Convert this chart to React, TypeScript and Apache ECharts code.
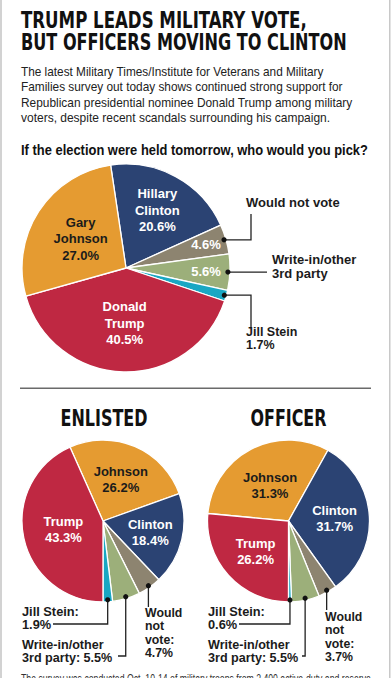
import React, { useEffect, useRef } from "react";
import * as echarts from "echarts";

// ---------- DATA ----------
const mainNames = ["Hillary Clinton", "Would not vote", "Write-in/other 3rd party", "Jill Stein", "Donald Trump", "Gary Johnson"];
const mainValues = [20.6, 4.6, 5.6, 1.7, 40.5, 27.0];

const subNames = ["Johnson", "Clinton", "Would not vote", "Write-in/other 3rd party", "Jill Stein", "Trump"];
const enlistedValues = [26.2, 18.4, 4.7, 5.5, 1.9, 43.3];
const officerValues = [31.3, 31.7, 3.7, 5.5, 0.6, 26.2];

const headline = ["TRUMP LEADS MILITARY VOTE,", "BUT OFFICERS MOVING TO CLINTON"];
const intro = [
  "The latest Military Times/Institute for Veterans and Military",
  "Families survey out today shows continued strong support for",
  "Republican presidential nominee Donald Trump among military",
  "voters, despite recent scandals surrounding his campaign.",
];
const question = "If the election were held tomorrow, who would you pick?";
const groupTitles = ["ENLISTED", "OFFICER"];
const footnote = "The survey was conducted Oct. 10-14 of military troops from 2,400 active-duty and reserve";

// ---------- STYLE ----------
const COLORS: Record<string, string> = {
  Clinton: "#2b4373",
  Johnson: "#e59b31",
  Trump: "#bf2842",
  WNV: "#8d8470",
  Write: "#9caf7a",
  Stein: "#19a7c3",
};
const mainColorKeys = ["Clinton", "WNV", "Write", "Stein", "Trump", "Johnson"];
const subColorKeys = ["Johnson", "Clinton", "WNV", "Write", "Stein", "Trump"];

const DARK = "#1b1b1b";
const F_HEAD = '"DejaVu Sans Condensed", "DejaVu Sans", sans-serif';
const F_BODY = '"Liberation Sans", Arial, Helvetica, sans-serif';

const fmt = (v: number) => v.toFixed(1) + "%";

// pie geometry (pixels)
const MAIN = { cx: 126, cy: 268, r: 104, start: 98.5 };
const ENL = { cx: 103, cy: 521, r: 81, start: 114.1 };
const OFF = { cx: 288.5, cy: 521, r: 81, start: 174.7 };

function midAngle(values: number[], start: number, i: number) {
  const sum = values.reduce((a, b) => a + b, 0);
  let cum = 0;
  for (let j = 0; j < i; j++) cum += values[j];
  return start - ((cum + values[i] / 2) / sum) * 360;
}
function polar(g: { cx: number; cy: number }, r: number, deg: number): [number, number] {
  const a = (deg * Math.PI) / 180;
  return [g.cx + r * Math.cos(a), g.cy - r * Math.sin(a)];
}

let ctx: CanvasRenderingContext2D | null = null;
function measure(text: string, font: string) {
  if (!ctx) ctx = document.createElement("canvas").getContext("2d");
  if (!ctx) return 1;
  ctx.font = font;
  return ctx.measureText(text).width || 1;
}

function txt(text: string, x: number, y: number, o: any = {}) {
  const size = o.size ?? 13;
  const weight = o.weight ?? "bold";
  const family = o.family ?? F_BODY;
  const align = o.align ?? "left";
  let scaleX = 1;
  if (o.fitWidth) scaleX = o.fitWidth / measure(text, `${weight} ${size}px ${family}`);
  return {
    type: "text",
    x,
    y,
    scaleX,
    silent: true,
    z: 10,
    style: {
      text,
      fill: o.color ?? DARK,
      fontSize: size,
      fontWeight: weight,
      fontFamily: family,
      align,
      textAlign: align,
      verticalAlign: "middle",
      textVerticalAlign: "middle",
      lineHeight: o.lh ?? size * 1.25,
    },
  };
}
function poly(points: number[][]) {
  return {
    type: "polyline",
    silent: true,
    z: 9,
    shape: { points },
    style: { stroke: "#222", lineWidth: 1.3, fill: null },
  };
}
function dot(p: number[]) {
  return { type: "circle", silent: true, z: 11, shape: { cx: p[0], cy: p[1], r: 2.6 }, style: { fill: "#111" } };
}

function pieSeries(values: number[], names: string[], keys: string[], g: any) {
  return {
    type: "pie",
    center: [g.cx, g.cy],
    radius: g.r,
    startAngle: g.start,
    clockwise: true,
    silent: true,
    label: { show: false },
    labelLine: { show: false },
    emphasis: { disabled: true },
    itemStyle: { borderColor: "#ffffff", borderWidth: 1.3 },
    data: values.map((v, i) => ({ value: v, name: names[i], itemStyle: { color: COLORS[keys[i]] } })),
  };
}

export default function App() {
  const ref = useRef<HTMLDivElement>(null);
  useEffect(() => {
    if (!ref.current) return;
    const chart = echarts.init(ref.current, undefined, { renderer: "svg" });
    const gr: any[] = [];

    // borders
    gr.push({ type: "rect", silent: true, shape: { x: 0, y: 0, width: 2, height: 678 }, style: { fill: "#d2d2d2" } });
    gr.push({ type: "rect", silent: true, shape: { x: 389, y: 0, width: 1.5, height: 678 }, style: { fill: "#c8c8c8" } });

    // headline
    gr.push(txt(headline[0], 21, 20.5, { size: 23, family: F_HEAD, fitWidth: 286, color: "#111" }));
    gr.push(txt(headline[1], 21, 42, { size: 23, family: F_HEAD, fitWidth: 326, color: "#111" }));
    const introW = [303, 322, 332, 309];
    const introY = [71.5, 87, 102.5, 118];
    intro.forEach((line, i) =>
      gr.push(txt(line, 21, introY[i], { size: 13, weight: "normal", fitWidth: introW[i], color: "#222" }))
    );
    gr.push(txt(question, 21, 150.5, { size: 14, fitWidth: 347, color: "#111" }));

    // main pie inner labels
    const mainInner = [
      { i: 0, lines: ["Hillary", "Clinton"], rf: 0.63, color: "#fff" },
      { i: 1, lines: [], rf: 0.8, color: "#fff" },
      { i: 2, lines: [], rf: 0.77, color: "#fff" },
      { i: 4, lines: ["Donald", "Trump"], rf: 0.53, color: "#fff" },
      { i: 5, lines: ["Gary", "Johnson"], rf: 0.52, color: DARK },
    ];
    mainInner.forEach((l) => {
      const p = polar(MAIN, MAIN.r * l.rf, midAngle(mainValues, MAIN.start, l.i));
      gr.push(txt([...l.lines, fmt(mainValues[l.i])].join("\n"), p[0], p[1], { align: "center", color: l.color, lh: 16.5 }));
    });

    // main pie outer labels
    const mdot = (i: number) => polar(MAIN, MAIN.r - 2, midAngle(mainValues, MAIN.start, i));
    {
      const p = mdot(1);
      gr.push(poly([p, [251, p[1]], [251, 214]]), dot(p));
      gr.push(txt("Would not vote", 246, 202));
    }
    {
      const p = mdot(2);
      gr.push(poly([p, [267, p[1]]]), dot(p));
      gr.push(txt("Write-in/other\n3rd party", 272, 266, { lh: 14 }));
    }
    {
      const p = mdot(3);
      gr.push(poly([p, [251, p[1]], [251, 328]]), dot(p));
      gr.push(txt("Jill Stein\n" + fmt(mainValues[3]), 246, 338.7, { size: 12.5, lh: 12.8 }));
    }

    // separator
    gr.push({ type: "line", silent: true, shape: { x1: 20, y1: 388.3, x2: 371, y2: 388.3 }, style: { stroke: "#6a6a6a", lineWidth: 1.6 } });

    // group titles
    gr.push(txt(groupTitles[0], ENL.cx + 1, 418, { size: 23, family: F_HEAD, fitWidth: 87, align: "center", color: "#111" }));
    gr.push(txt(groupTitles[1], OFF.cx, 418, { size: 23, family: F_HEAD, fitWidth: 76, align: "center", color: "#111" }));

    // small pies
    const subs = [
      {
        g: ENL, values: enlistedValues,
        inner: [{ i: 0, rf: 0.56, color: DARK }, { i: 1, rf: 0.6, color: "#fff" }, { i: 5, rf: 0.5, color: "#fff" }],
        stein: { y: 624, x: 53, tx: 22 }, write: { y: 656, x: 118, tx: 22 }, wnv: { y: 607, tx: 145, ty: 633 },
      },
      {
        g: OFF, values: officerValues,
        inner: [{ i: 0, rf: 0.49, color: DARK }, { i: 1, rf: 0.57, color: "#fff" }, { i: 5, rf: 0.55, color: "#fff" }],
        stein: { y: 624, x: 239, tx: 208 }, write: { y: 656, x: 302, tx: 208 }, wnv: { y: 610, tx: 325, ty: 637 },
      },
    ];
    subs.forEach((s) => {
      s.inner.forEach((l) => {
        const p = polar(s.g, s.g.r * l.rf, midAngle(s.values, s.g.start, l.i));
        gr.push(txt(subNames[l.i] + "\n" + fmt(s.values[l.i]), p[0], p[1], { align: "center", color: l.color, lh: 16 }));
      });
      const sd = (i: number) => polar(s.g, s.g.r - 2, midAngle(s.values, s.g.start, i));
      const pS = sd(4);
      gr.push(poly([pS, [pS[0], s.stein.y], [s.stein.x, s.stein.y]]), dot(pS));
      gr.push(txt("Jill Stein:\n" + fmt(s.values[4]), s.stein.tx, 618, { size: 12.8, lh: 13.8 }));
      const pW = sd(3);
      gr.push(poly([pW, [pW[0], s.write.y], [s.write.x, s.write.y]]), dot(pW));
      gr.push(txt("Write-in/other\n3rd party: " + fmt(s.values[3]), s.write.tx, 651, { size: 12.6, lh: 13 }));
      const pN = sd(2);
      gr.push(poly([pN, [pN[0], s.wnv.y]]), dot(pN));
      gr.push(txt("Would\nnot\nvote:\n" + fmt(s.values[2]), s.wnv.tx, s.wnv.ty, { size: 12.3, lh: 13.5 }));
    });

    // footnote (cut at page bottom, as in the reference)
    gr.push(txt(footnote, 21, 678, { size: 12.5, weight: "normal", fitWidth: 350, color: "#333" }));

    chart.setOption({
      animation: false,
      backgroundColor: "#ffffff",
      series: [
        pieSeries(mainValues, mainNames, mainColorKeys, MAIN),
        pieSeries(enlistedValues, subNames, subColorKeys, ENL),
        pieSeries(officerValues, subNames, subColorKeys, OFF),
      ],
      graphic: { elements: gr },
    });
    return () => chart.dispose();
  }, []);
  return <div ref={ref} style={{ position: "absolute", left: 0, top: 0, width: 391, height: 678 }} />;
}
